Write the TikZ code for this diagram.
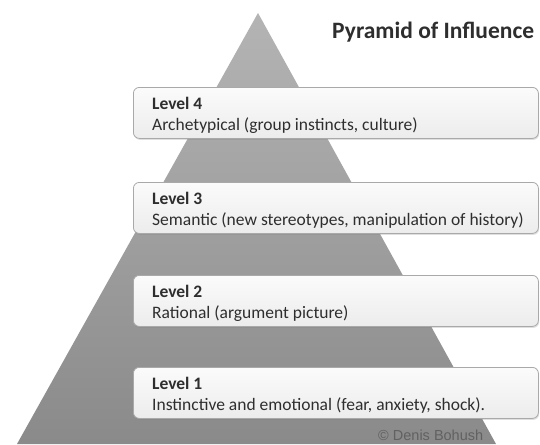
\documentclass[tikz,border=0pt]{standalone}
\usepackage{fontspec}
\setmainfont{Carlito}
\newfontfamily\arialf{Liberation Sans}
\usetikzlibrary{shadows,calc}
\definecolor{pyrtop}{HTML}{B4B4B4}
\definecolor{pyrbot}{HTML}{8A8A8A}
\definecolor{boxline}{HTML}{A9A9A9}
\definecolor{boxtop}{HTML}{FBFBFB}
\definecolor{boxbot}{HTML}{ECECEC}
\definecolor{txt}{HTML}{2E2E2E}
\tikzset{
  lvlbox/.style={draw=boxline, line width=0.8pt, rounded corners=6pt,
    top color=boxtop, bottom color=boxbot, minimum width=405pt, minimum height=51pt,
    anchor=north west, inner sep=0pt,
    drop shadow={opacity=0.25, shadow xshift=0.8pt, shadow yshift=-1.5pt}},
  lvlhead/.style={anchor=base west, inner sep=0pt, text=txt, font=\fontsize{17.5}{20}\selectfont\bfseries},
  lvltext/.style={anchor=base west, inner sep=0pt, text=txt, font=\fontsize{17.5}{20}\selectfont},
  titletext/.style={anchor=base west, inner sep=0pt, text=txt, font=\fontsize{23.5}{26}\selectfont\bfseries},
  credit/.style={anchor=base west, inner sep=0pt, text=black!62, font=\arialf\fontsize{14.5}{16}\selectfont},
}
\begin{document}
\begin{tikzpicture}[x=1pt,y=-1pt]
\useasboundingbox (0,0) rectangle (540,444);
\clip (0,0) rectangle (540,444);
\fill[white] (0,0) rectangle (540,444);
% pyramid
\shade[top color=pyrtop, bottom color=pyrbot] (258,13) -- (496,444) -- (17,444) -- cycle;
% title
\node[titletext] (title) at (332,38) {Pyramid of Influence};
% boxes
\node[lvlbox] (b4) at (133,87) {};
\node[lvlbox] (b3) at (133,182) {};
\node[lvlbox] (b2) at (133,275) {};
\node[lvlbox] (b1) at (133,367) {};
\foreach \n/\h/\d in {4/Level 4/{Archetypical (group instincts, culture)},
                      3/Level 3/{Semantic (new stereotypes, manipulation of history)},
                      2/Level 2/{Rational (argument picture)},
                      1/Level 1/{Instinctive and emotional (fear, anxiety, shock).}}{
  \node[lvlhead] (h\n) at ($(b\n.north west)+(19,22)$) {\h};
  \node[lvltext] (d\n) at ($(b\n.north west)+(19,43)$) {\d};
}
\node[credit] (cr) at (378,440) {© Denis Bohush};
\end{tikzpicture}
\end{document}
